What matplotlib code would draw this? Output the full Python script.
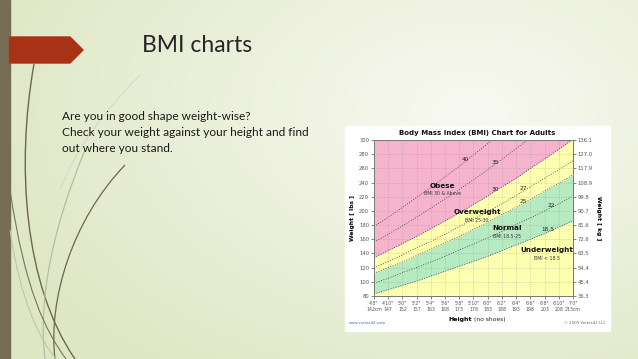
import numpy as np
import matplotlib.pyplot as plt
from matplotlib.patches import Polygon, Rectangle, PathPatch
from matplotlib.path import Path

# height ticks (inches) and their labels
heights = [56, 58, 60, 62, 64, 66, 68, 70, 72, 74, 76, 78, 80, 82, 84]
height_ft = ["4'8\"", "4'10\"", "5'0\"", "5'2\"", "5'4\"", "5'6\"", "5'8\"", "5'10\"",
             "6'0\"", "6'2\"", "6'4\"", "6'6\"", "6'8\"", "6'10\"", "7'0\""]
height_cm = ["142cm", "147", "152", "157", "163", "168", "173", "178",
             "183", "188", "193", "198", "203", "208", "213cm"]
lbs_ticks = [80, 100, 120, 140, 160, 180, 200, 220, 240, 260, 280, 300]
kg_labels = ["36.3", "45.4", "54.4", "63.5", "72.6", "81.6", "90.7", "99.8",
             "108.9", "117.9", "127.0", "136.1"]

# weight (lbs) along each BMI line, read at each height tick
w_185 = [83, 89, 95, 101, 108, 115, 122, 129, 136, 144, 152, 160, 168, 177, 186]
w_22 = [98, 105, 113, 120, 128, 136, 145, 153, 162, 171, 181, 190, 200, 210, 221]
w_25 = [112, 120, 128, 137, 146, 155, 164, 174, 184, 195, 205, 216, 228, 239, 251]
w_27 = [120, 129, 138, 148, 157, 167, 178, 188, 199, 210, 222, 234, 246, 258, 271]
w_30 = [134, 144, 154, 164, 175, 186, 197, 209, 221, 234, 246, 260, 273, 287, 301]
w_35 = [156, 167, 179, 191, 204, 217, 230, 244, 258, 273, 288, 303, 319, 335, 351]
w_40 = [178, 191, 205, 219, 233, 248, 263, 279, 295, 312, 329, 346, 364, 383, 401]

bmi_names = ["18.5", "22", "25", "27", "30", "35", "40"]
bmi_lines = [w_185, w_22, w_25, w_27, w_30, w_35, w_40]
bmi_label_h = [80.5, 81, 77, 77, 73, 73, 68.8]

fig = plt.figure(figsize=(6.38, 3.59), dpi=100)

# slide background
bg = fig.add_axes([0, 0, 1, 1])
bg.set_xlim(0, 638)
bg.set_ylim(359, 0)
bg.axis('off')
yy, xx = np.mgrid[0:359, 0:638]
d = np.sqrt(((xx - 470) / 520.0) ** 2 + ((yy - 110) / 330.0) ** 2)
d = np.clip(d, 0, 1)[..., None]
c_in = np.array([248, 249, 241]) / 255.0
c_out = np.array([222, 231, 196]) / 255.0
bg.imshow(c_in * (1 - d) + c_out * d, extent=(0, 638, 359, 0), aspect='auto', zorder=0)

bg.add_patch(Rectangle((0, 0), 9.5, 359, color='#766C55', zorder=2))
bg.add_patch(Polygon([(9.5, 37), (70, 37), (83, 50), (70, 63), (9.5, 63)],
                     closed=True, color='#A83216', zorder=2))

# grass strokes
strokes = [
    ([(34, 64), (16, 165), (24, 285), (75, 359)], '#6E6650', 1.0),
    ([(125, 165), (72, 220), (48, 300), (55, 359)], '#6E6650', 0.9),
    ([(85, 150), (52, 230), (38, 300), (45, 359)], '#B9BBA6', 0.9),
    ([(10, 190), (25, 290), (45, 330), (66, 359)], '#7A725C', 0.8),
    ([(10, 230), (20, 300), (40, 340), (56, 359)], '#C2C3AE', 0.8),
    ([(140, 75), (105, 110), (75, 150), (60, 190)], '#D5D8C3', 0.7),
]
for pts, col, lw in strokes:
    p = Path(pts, [Path.MOVETO, Path.CURVE4, Path.CURVE4, Path.CURVE4])
    bg.add_patch(PathPatch(p, fill=False, edgecolor=col, lw=lw, zorder=3))

bg.text(197, 45, "BMI charts", fontsize=16.5, family='Lato', color='#262626',
        ha='center', va='center', zorder=4)
body = ["Are you in good shape weight-wise?",
        "Check your weight against your height and find",
        "out where you stand."]
for i, line in enumerate(body):
    bg.text(62, 117 + 16 * i, line, fontsize=8.6, family='Lato', color='#1a1a1a',
            ha='left', va='center', zorder=4)

# chart card
bg.add_patch(Rectangle((345, 126), 265, 205, color='white', zorder=4))
bg.text(477, 133, "Body Mass Index (BMI) Chart for Adults", fontsize=5, fontweight='bold',
        ha='center', va='center', color='#111', zorder=5)
bg.text(472, 320, "Height", fontsize=4.5, fontweight='bold', ha='right', va='center', zorder=5)
bg.text(474, 320, "(no shoes)", fontsize=4.3, ha='left', va='center', color='#222', zorder=5)
bg.text(349, 323, "www.vertex42.com", fontsize=2.8, ha='left', va='center', color='#4466bb', zorder=5)
bg.text(606, 323, "\u00a9 2009 Vertex42 LLC", fontsize=2.8, ha='right', va='center', color='#666', zorder=5)

ax = fig.add_axes([374 / 638, 1 - 296 / 359, 199 / 638, 156 / 359], zorder=6)
ax.set_xlim(56, 84)
ax.set_ylim(80, 300)
ax.fill_between(heights, w_30, 300, color='#F5B3CC', lw=0)
ax.fill_between(heights, w_25, w_30, color='#FFFFB0', lw=0)
ax.fill_between(heights, w_185, w_25, color='#B6EAC0', lw=0)
ax.fill_between(heights, 80, w_185, color='#FFFFB0', lw=0)

ax.grid(True, color='#999999', lw=0.4, ls=(0, (1, 2)))
ax.set_axisbelow(False)
for name, w, h in zip(bmi_names, bmi_lines, bmi_label_h):
    ax.plot(heights, w, color='#333333', lw=0.6, ls=(0, (1, 2)))
    ax.text(h, np.interp(h, heights, w) + 3, name, fontsize=4.2, ha='center',
            va='center', color='#222')

regions = [(65.6, 235, 224, "Obese", "BMI 30 & Above"),
           (70.5, 198, 187, "Overweight", "BMI 25-30"),
           (74.7, 176, 164, "Normal", "BMI 18.5-25"),
           (80.3, 145, 133, "Underweight", "BMI < 18.5")]
for h, wt, ws, title, sub in regions:
    ax.text(h, wt, title, fontsize=5.2, fontweight='bold', ha='center', va='center', color='#111')
    ax.text(h, ws, sub, fontsize=3.3, ha='center', va='center', color='#333')

ax.set_xticks(heights)
ax.set_xticklabels([f + "\n" + c for f, c in zip(height_ft, height_cm)])
ax.set_yticks(lbs_ticks)
ax.tick_params(labelsize=3.8, colors='#555555', length=2, width=0.5, pad=1.5)
ax.tick_params(axis='x', labelsize=3.3)
for s in ax.spines.values():
    s.set_color('#777777')
    s.set_linewidth(0.6)
ax.set_ylabel("Weight [ lbs ]", fontsize=4.3, fontweight='bold', labelpad=3)

ax2 = ax.twinx()
ax2.set_ylim(80, 300)
ax2.set_yticks(lbs_ticks)
ax2.set_yticklabels(kg_labels)
ax2.tick_params(labelsize=3.8, colors='#555555', length=2, width=0.5, pad=1.5)
for s in ax2.spines.values():
    s.set_color('#777777')
    s.set_linewidth(0.6)
ax2.set_ylabel("Weight [ kg ]", fontsize=4.3, fontweight='bold', rotation=270, labelpad=6)

fig.savefig("out.png", dpi=100)
